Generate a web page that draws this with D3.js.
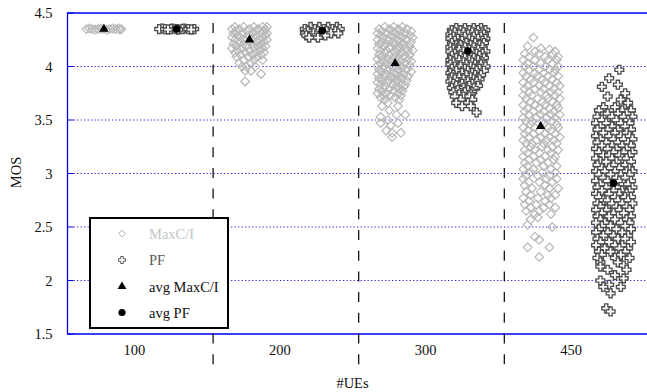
<!DOCTYPE html>
<html>
<head>
<meta charset="utf-8">
<script src="https://cdn.jsdelivr.net/npm/d3@7"></script>
<style>
  body { margin: 0; background: #fff; }
</style>
</head>
<body>
<div id="chart"></div>
<script>
// categories, ticks and averages
const groups = ["100", "200", "300", "450"];
const yTicks = [1.5, 2, 2.5, 3, 3.5, 4, 4.5];
const avgMaxCI = [4.35, 4.25, 4.03, 3.44];
const avgPF = [4.35, 4.335, 4.145, 2.91];

// per-user MOS samples, one row = [MOS, jitter offsets (1/100 of a category)...]
const maxci100 = [
  [4.355, -10, -2, 6, 10], [4.35, -12, -8, -4, 0, 4, 8, 12], [4.345, -6, 2, 11]
];
const pf100 = [
  [4.355, -10, -3, 5], [4.35, -12, -8, -4, 0, 4, 8, 12], [4.345, -6, 1, 10]
];
const maxci200 = [
  [4.37, -10, -4, 3, 9, 12], [4.35, -12, -7, 0, 6, 11], [4.33, -9, -2, 4, 10],
  [4.31, -11, -5, 2, 8, 12], [4.29, -8, -1, 5, 11], [4.27, -12, -6, 3, 9],
  [4.25, -10, -3, 1, 7, 12], [4.23, -7, 0, 5, 10], [4.21, -11, -4, 2, 8],
  [4.19, -9, -2, 6, 11], [4.17, -12, -5, 3, 9], [4.15, -8, 0, 7],
  [4.13, -10, -3, 4, 10], [4.11, -6, 2, 8], [4.09, -9, -1, 5],
  [4.06, -4, 3, 9], [4.03, -7, 1], [4.00, -5, -2, 4], [3.96, -3, 1],
  [3.93, 8], [3.86, -3]
];
const pf200 = [
  [4.37, -8, -2, 4, 10], [4.35, -12, -5, 1, 7, 12], [4.33, -10, -3, 3, 9],
  [4.31, -12, -6, 0, 6, 11], [4.29, -11, -4, 2], [4.27, -9, -3]
];
const maxci300 = [
  [4.37, -7, -1, 5], [4.35, -11, -4, 2, 8], [4.33, -9, -2, 4, 11],
  [4.31, -12, -6, 0, 7], [4.29, -10, -3, 3, 10], [4.27, -8, -1, 5, 12],
  [4.25, -12, -5, 2, 8], [4.23, -9, -2, 4, 11], [4.21, -11, -6, 0, 6],
  [4.19, -8, -3, 3, 10], [4.17, -12, -4, 1, 7], [4.15, -10, -6, 2, 9, 12],
  [4.13, -7, 0, 5], [4.11, -11, -4, 3, 10], [4.09, -9, -1, 6],
  [4.07, -12, -5, 2, 9], [4.05, -8, -2, 4, 11], [4.03, -10, -6, 1, 7],
  [4.01, -12, -3, 3, 10], [3.99, -8, -1, 5], [3.97, -11, -5, 2, 8],
  [3.95, -9, -2, 4, 11], [3.93, -12, -6, 0, 6], [3.91, -8, -3, 3, 9],
  [3.89, -11, -1, 5], [3.87, -9, -4, 2, 8], [3.85, -12, -6, 0],
  [3.83, -10, -2, 4, 7], [3.81, -7, 1, 6], [3.79, -11, -4, 3],
  [3.77, -9, -1, 5], [3.75, -12, -6, 2], [3.73, -8, -3, 4], [3.71, -10, 0],
  [3.69, -7, 3], [3.66, -5], [3.63, -9, 2], [3.59, -4], [3.55, 1, 7],
  [3.53, -10], [3.50, -5], [3.47, -10, 2], [3.45, -3], [3.40, -6],
  [3.38, -2, 4], [3.34, -2]
];
const pf300 = [
  [4.36, -8, -2, 4, 9], [4.34, -11, -5, 1, 7, 12], [4.32, -9, -3, 3, 10],
  [4.30, -12, -6, 0, 6, 11], [4.28, -10, -2, 4, 9], [4.26, -12, -7, 1, 7, 12],
  [4.24, -9, -4, 3, 10], [4.22, -11, -1, 5, 11], [4.20, -8, -5, 2, 8],
  [4.18, -12, -2, 4, 10], [4.16, -10, -6, 1, 7], [4.14, -12, -3, 3, 12],
  [4.12, -9, 0, 6, 10], [4.10, -11, -5, 2, 8], [4.08, -8, -2, 4, 11],
  [4.06, -12, -6, 1, 7], [4.04, -10, -3, 3, 10], [4.02, -12, -1, 5, 9],
  [4.00, -9, -5, 2, 12], [3.98, -11, -2, 4, 8], [3.96, -8, 0, 6, 11],
  [3.94, -12, -4, 3], [3.92, -10, -1, 5, 9], [3.90, -11, -6, 2],
  [3.88, -9, -3, 4, 8], [3.86, -12, 0, 6], [3.84, -10, -4, 3],
  [3.82, -8, 1, 7], [3.80, -11, -3, 4], [3.78, -7, 0], [3.76, -10, -2, 3],
  [3.74, -6, 2], [3.72, -9, -3, 1], [3.69, -5, 3], [3.66, -8, 0],
  [3.63, -4, 2], [3.57, 6]
];
const maxci450 = [
  [4.27, -5], [4.19, -9], [4.17, 0], [4.16, 6], [4.14, -4, 10],
  [4.12, -11, -1, 8], [4.09, -8, 3, 12], [4.06, -12, -4, 5, 11],
  [4.03, -9, 0, 8], [4.00, -11, -5, 3, 12], [3.97, -8, -1, 6, 10],
  [3.94, -12, -4, 2, 9], [3.91, -10, -2, 5, 12], [3.88, -7, 1, 8],
  [3.85, -12, -5, 3, 11], [3.82, -9, -1, 6, 13], [3.79, -11, -4, 2, 9],
  [3.76, -8, 0, 7, 12], [3.73, -12, -6, 4, 10], [3.70, -10, -2, 5, 13],
  [3.67, -7, 1, 8], [3.64, -12, -4, 3, 11], [3.61, -9, -1, 6, 12],
  [3.58, -11, -5, 2, 9], [3.55, -8, 0, 7, 13], [3.52, -12, -3, 4, 10],
  [3.49, -10, -6, 1, 8], [3.46, -7, 2, 11], [3.43, -12, -4, 5, 12],
  [3.40, -9, -1, 7], [3.37, -11, -5, 3, 10], [3.34, -8, 0, 6, 13],
  [3.31, -12, -3, 4, 9], [3.28, -10, -6, 2, 11], [3.25, -7, 1, 8],
  [3.22, -11, -4, 5, 12], [3.19, -9, -1, 7], [3.16, -12, -5, 3, 10],
  [3.13, -8, 0, 9], [3.10, -11, -3, 5], [3.07, -9, 2, 11], [3.04, -12, -5, 7],
  [3.01, -7, 1, 10], [2.98, -10, -2, 6], [2.95, -12, 4, 11], [2.92, -8, -1, 8],
  [2.89, -11, 3], [2.86, -6, 6, 12], [2.83, -10, 0], [2.80, -7, 5, 10],
  [2.77, -12, -2, 7], [2.74, -8, 3], [2.71, -11, -3, 6], [2.68, -7, 2, 10],
  [2.65, -10, -1], [2.62, -4, 7], [2.59, -2], [2.57, -7], [2.52, -9],
  [2.50, 8], [2.41, -4], [2.38, -1], [2.31, -9, 6], [2.22, -1]
];
const pf450 = [
  [3.97, 4], [3.89, -3], [3.83, 3], [3.81, -8], [3.75, 8], [3.72, -4],
  [3.69, 5], [3.66, 10], [3.62, -7, 1], [3.59, -10, 6, 12], [3.56, -4, 3, 9],
  [3.53, -11, -1, 7, 13], [3.50, -8, 2, 10], [3.47, -12, -5, 5, 11],
  [3.44, -9, -1, 8], [3.41, -11, -4, 3, 12], [3.38, -7, 1, 9],
  [3.35, -12, -3, 5, 11], [3.32, -9, 0, 7, 13], [3.29, -11, -5, 3, 10],
  [3.26, -8, -1, 6, 12], [3.23, -12, -4, 2, 9], [3.20, -10, 0, 7, 13],
  [3.17, -7, -3, 4, 11], [3.14, -12, -1, 6, 9], [3.11, -9, -5, 2, 12],
  [3.08, -11, 0, 8], [3.05, -8, -3, 4, 11], [3.02, -12, -6, 1, 9, 13],
  [2.99, -10, -2, 5, 11], [2.96, -7, 2, 8], [2.93, -12, -4, 4, 12],
  [2.90, -9, -1, 7, 10], [2.87, -11, -5, 2, 13], [2.84, -8, 0, 6, 11],
  [2.81, -12, -3, 4, 9], [2.78, -10, 1, 8, 12], [2.75, -7, -4, 3, 10],
  [2.72, -11, -1, 6, 13], [2.69, -9, 2, 9], [2.66, -12, -5, 4, 11],
  [2.63, -8, 0, 7], [2.60, -11, -3, 3, 12], [2.57, -9, 1, 9],
  [2.54, -12, -6, 5, 11], [2.51, -8, -2, 8], [2.48, -10, 2, 12],
  [2.45, -12, -4, 6], [2.42, -7, 0, 10], [2.39, -11, 3, 8], [2.36, -9, -3, 12],
  [2.33, -12, 1, 6], [2.30, -6, 4, 10], [2.27, -10, -2, 8], [2.24, -8, 5],
  [2.21, -11, 1, 11], [2.17, -9, 3], [2.14, 7], [2.13, -9], [2.10, -4, 9],
  [2.05, 1], [2.02, 7], [2.00, -9], [1.96, -3], [1.94, -7, 5], [1.88, -2],
  [1.74, -5], [1.71, -2]
];
const maxciSets = [maxci100, maxci200, maxci300, maxci450];
const pfSets = [pf100, pf200, pf300, pf450];

const width = 647, height = 392;
const plotLeft = 67.5, plotTop = 13, plotBottom = 334;
const serif = "'Liberation Serif', 'DejaVu Serif', serif";

const svg = d3.select("#chart").append("svg")
  .attr("width", width)
  .attr("height", height)
  .attr("font-family", serif);

const x = d3.scaleLinear().domain([-0.5, 3.5]).range([plotLeft, plotLeft + 4 * 145.6]);
const y = d3.scaleLinear().domain([1.5, 4.5]).range([plotBottom, plotTop]);

const blue = "#0000ee";

// dotted grid
svg.append("g").selectAll("line")
  .data(yTicks.filter(d => d > 1.5 && d < 4.5))
  .enter().append("line")
  .attr("x1", plotLeft + 6).attr("x2", width)
  .attr("y1", d => y(d)).attr("y2", d => y(d))
  .attr("stroke", blue).attr("stroke-opacity", 0.85)
  .attr("stroke-width", 1)
  .attr("stroke-dasharray", "1.3,2.2");

// tick marks
svg.append("g").selectAll("line")
  .data(yTicks)
  .enter().append("line")
  .attr("x1", plotLeft).attr("x2", plotLeft + 6)
  .attr("y1", d => y(d)).attr("y2", d => y(d))
  .attr("stroke", blue);

// border
svg.append("path")
  .attr("d", `M${width},${plotTop}H${plotLeft}V${plotBottom}H${width}`)
  .attr("fill", "none")
  .attr("stroke", blue)
  .attr("stroke-width", 1.3);

// group dividers
svg.append("g").selectAll("line")
  .data(groups.slice(0, 3))
  .enter().append("line")
  .attr("x1", (d, i) => x(i + 0.5)).attr("x2", (d, i) => x(i + 0.5))
  .attr("y1", 23).attr("y2", 371)
  .attr("stroke", "#000").attr("stroke-width", 1.2)
  .attr("stroke-dasharray", "10,10.7");

// tick labels
svg.append("g").selectAll("text")
  .data(yTicks)
  .enter().append("text")
  .attr("x", 52.5).attr("y", d => y(d) + 5)
  .attr("text-anchor", "end")
  .attr("font-size", 14.5)
  .attr("fill", "#111")
  .text(d => d);

svg.append("g").selectAll("text")
  .data(groups)
  .enter().append("text")
  .attr("x", (d, i) => x(i) - 6).attr("y", 355)
  .attr("text-anchor", "middle")
  .attr("font-size", 14.5)
  .attr("fill", "#111")
  .text(d => d);

svg.append("text")
  .attr("x", 352.5).attr("y", 387.5)
  .attr("text-anchor", "middle")
  .attr("font-size", 14.5)
  .attr("fill", "#111")
  .text("#UEs");

svg.append("text")
  .attr("transform", "translate(20.5,172.5) rotate(-90)")
  .attr("text-anchor", "middle")
  .attr("font-size", 14.5)
  .attr("fill", "#111")
  .text("MOS");

// symbols
const diamond = s => `M0,${-s}L${s},0L0,${s}L${-s},0Z`;
const cross = (s, a) => `M${-a},${-s}H${a}V${-a}H${s}V${a}H${a}V${s}H${-a}V${a}H${-s}V${-a}H${-a}Z`;

function flatten(sets, side) {
  const pts = [];
  sets.forEach((rows, i) => {
    rows.forEach(r => {
      r.slice(1).forEach(dx => pts.push({ x: i + side + dx / 100, y: r[0] }));
    });
  });
  return pts;
}

svg.append("g").selectAll("path")
  .data(flatten(maxciSets, -0.25))
  .enter().append("path")
  .attr("transform", d => `translate(${x(d.x)},${y(d.y)})`)
  .attr("d", diamond(4.3))
  .attr("fill", "none")
  .attr("stroke", "#b8b8b8")
  .attr("stroke-width", 1.2);

svg.append("g").selectAll("path")
  .data(flatten(pfSets, 0.25))
  .enter().append("path")
  .attr("transform", d => `translate(${x(d.x)},${y(d.y)})`)
  .attr("d", cross(4.4, 1.6))
  .attr("fill", "#fff")
  .attr("stroke", "#4e4e4e")
  .attr("stroke-width", 1.35);

// averages
svg.append("g").selectAll("path")
  .data(avgMaxCI)
  .enter().append("path")
  .attr("transform", (d, i) => `translate(${x(i - 0.25)},${y(d)})`)
  .attr("d", d3.symbol(d3.symbolTriangle, 38))
  .attr("fill", "#000");

svg.append("g").selectAll("circle")
  .data(avgPF)
  .enter().append("circle")
  .attr("cx", (d, i) => x(i + 0.25))
  .attr("cy", d => y(d))
  .attr("r", 3.8)
  .attr("fill", "#000");

// legend
const legend = svg.append("g");
legend.append("rect")
  .attr("x", 90).attr("y", 218)
  .attr("width", 138).attr("height", 110)
  .attr("fill", "#fff")
  .attr("stroke", "#000")
  .attr("stroke-width", 2);

const legendItems = [
  { label: "MaxC/I", color: "#c4c4c4" },
  { label: "PF", color: "#5a5a5a" },
  { label: "avg MaxC/I", color: "#111" },
  { label: "avg PF", color: "#111" }
];
const ly = [233.5, 260, 286.5, 312.5];

legendItems.forEach((it, i) => {
  legend.append("text")
    .attr("x", 149).attr("y", ly[i] + 5)
    .attr("font-size", 14.5)
    .attr("fill", it.color)
    .text(it.label);
});
legend.append("path")
  .attr("transform", `translate(122,${ly[0]})`)
  .attr("d", diamond(3.4))
  .attr("fill", "none").attr("stroke", "#b0b0b0");
legend.append("path")
  .attr("transform", `translate(122,${ly[1]})`)
  .attr("d", cross(3.5, 1.3))
  .attr("fill", "#fff").attr("stroke", "#5a5a5a");
legend.append("path")
  .attr("transform", `translate(122,${ly[2]})`)
  .attr("d", d3.symbol(d3.symbolTriangle, 34))
  .attr("fill", "#000");
legend.append("circle")
  .attr("cx", 122).attr("cy", ly[3]).attr("r", 3.6)
  .attr("fill", "#000");
</script>
</body>
</html>
